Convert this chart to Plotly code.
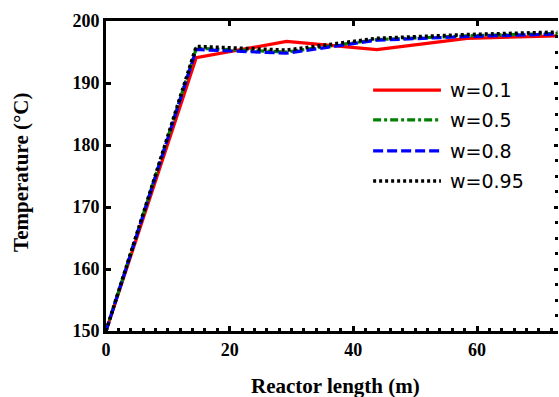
import plotly.graph_objects as go

# Reactor length positions (m) and temperature profiles (°C) for each weight factor
length_m = [0, 14.6, 29.2, 43.8, 58.4, 73.0]
temp_w01 = [150.0, 194.1, 196.7, 195.4, 197.2, 197.6]
temp_w05 = [150.0, 195.6, 195.0, 197.0, 197.6, 198.0]
temp_w08 = [150.0, 195.4, 194.8, 196.9, 197.5, 197.9]
temp_w095 = [150.0, 195.9, 195.3, 197.2, 197.8, 198.2]

series_names = ["w=0.1", "w=0.5", "w=0.8", "w=0.95"]
series_values = [temp_w01, temp_w05, temp_w08, temp_w095]
series_styles = [
    dict(color="#ff0000", width=3.2, dash="solid"),
    dict(color="#008000", width=3.2, dash="8px,3px,3px,3px"),
    dict(color="#0000ff", width=3.2, dash="10px,4px"),
    dict(color="#000000", width=3.6, dash="3px,3px"),
]

x_ticks = [0, 20, 40, 60]
y_ticks = [150, 160, 170, 180, 190, 200]

serif_bold = dict(family="Liberation Serif, Times New Roman, serif", size=18,
                  color="black", weight="bold")

fig = go.Figure()
for name, vals, style in zip(series_names, series_values, series_styles):
    fig.add_trace(go.Scatter(x=length_m, y=vals, mode="lines", name=name,
                             line=style, showlegend=False))

# invisible trace to carry the top / right tick-only axes
fig.add_trace(go.Scatter(x=[length_m[0]], y=[temp_w01[0]], xaxis="x2", yaxis="y2",
                         mode="markers", marker=dict(opacity=0), showlegend=False,
                         hoverinfo="skip"))

fig.update_layout(
    width=559, height=397,
    margin=dict(l=106, r=1, t=21, b=66),
    plot_bgcolor="white", paper_bgcolor="white",
    xaxis=dict(range=[0, 73.1], tickvals=x_ticks, ticks="inside", ticklen=5,
               tickwidth=2.5, tickcolor="black", showline=True, linewidth=3,
               linecolor="black", mirror=True, showgrid=False, zeroline=False,
               tickfont=serif_bold,
               minor=dict(dtick=2, ticks="inside", ticklen=3, tickwidth=2.5,
                          tickcolor="black", showgrid=False)),
    yaxis=dict(range=[150, 200], tickvals=y_ticks, ticks="inside", ticklen=5,
               tickwidth=2.5, tickcolor="black", showline=True, linewidth=3,
               linecolor="black", mirror=False, showgrid=False, zeroline=False,
               tickfont=serif_bold),
    xaxis2=dict(range=[0, 73.1], overlaying="x", side="top", tickvals=x_ticks,
                ticks="inside", ticklen=5, tickwidth=2.5, tickcolor="black",
                showticklabels=False, showline=False, showgrid=False,
                zeroline=False),
    yaxis2=dict(range=[150, 200], overlaying="y", side="right", tickvals=y_ticks,
                ticks="inside", ticklen=4, tickwidth=2.5, tickcolor="black",
                showticklabels=False, showline=False, showgrid=False,
                zeroline=False,
                minor=dict(dtick=2.5, ticks="inside", ticklen=3, tickwidth=2.5,
                           tickcolor="black", showgrid=False)),
    showlegend=False,
)

title_font = dict(family="Liberation Serif, Times New Roman, serif", size=21,
                  color="black", weight="bold")
fig.add_annotation(text="Reactor length (m)", xref="paper", yref="paper",
                   x=0.507, y=-0.176, xanchor="center", yanchor="middle",
                   showarrow=False, font=title_font)
fig.add_annotation(text="Temperature (°C)", xref="paper", yref="paper",
                   x=-0.188, y=0.51, xanchor="center", yanchor="middle",
                   textangle=-90, showarrow=False, font=title_font)

# legend: line samples with labels
legend_rows_y = [0.777, 0.681, 0.581, 0.484]
legend_font = dict(family="DejaVu Sans, Arial, sans-serif", size=19, color="black")
for name, style, ry in zip(series_names, series_styles, legend_rows_y):
    fig.add_shape(type="line", xref="paper", yref="paper", x0=0.591, x1=0.741,
                  y0=ry, y1=ry, line=style)
    fig.add_annotation(text=name, xref="paper", yref="paper", x=0.757, y=ry,
                       xanchor="left", yanchor="middle", showarrow=False,
                       font=legend_font)

fig.write_html("out.html")
